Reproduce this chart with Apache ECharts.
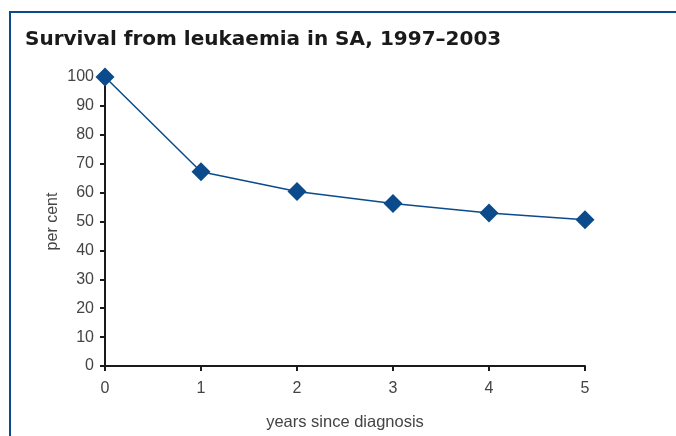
<!DOCTYPE html>
<html>
<head>
<meta charset="utf-8">
<title>Survival from leukaemia in SA</title>
<script src="https://cdn.jsdelivr.net/npm/echarts@6/dist/echarts.min.js"></script>
<style>
  html, body { margin: 0; padding: 0; background: #fff; }
  #frame { position: absolute; left: 9px; top: 11px; width: 667px; height: 425px;
           border-top: 2px solid #0b4a8b; border-left: 2px solid #0b4a8b; box-sizing: border-box; }
  #chart { width: 676px; height: 436px; }
</style>
</head>
<body>
<div id="frame"></div>
<div id="chart"></div>
<script>
// years since diagnosis
var years = [0, 1, 2, 3, 4, 5];
// per cent surviving
var survival = [100, 67.2, 60.4, 56.2, 52.9, 50.6];

var chart = echarts.init(document.getElementById('chart'));

var axisText = { color: '#444', fontSize: 16, fontFamily: 'Liberation Sans, Arial, sans-serif' };

chart.setOption({
    animation: false,
    title: {
        text: 'Survival from leukaemia in SA, 1997–2003',
        left: 20,
        top: 25,
        textStyle: { fontSize: 20, fontWeight: 'bold', color: '#1a1a1a', fontFamily: 'DejaVu Sans, sans-serif' }
    },
    grid: { left: 105, right: 91, top: 77, bottom: 65 },
    xAxis: {
        type: 'value',
        min: 0, max: 5, interval: 1,
        name: 'years since diagnosis',
        nameLocation: 'middle',
        nameGap: 48,
        nameMoveOverlap: false,
        nameTextStyle: Object.assign({}, axisText, { fontSize: 16.5 }),
        axisLine: { lineStyle: { color: '#1a1a1a', width: 2 } },
        axisTick: { length: 5, lineStyle: { color: '#1a1a1a', width: 2 } },
        axisLabel: Object.assign({ margin: 15 }, axisText),
        splitLine: { show: false }
    },
    yAxis: {
        type: 'value',
        min: 0, max: 100, interval: 10,
        name: 'per cent',
        nameLocation: 'middle',
        nameGap: 44,
        nameMoveOverlap: false,
        nameTextStyle: axisText,
        axisLine: { show: true, lineStyle: { color: '#1a1a1a', width: 2 } },
        axisTick: { show: true, length: 5, lineStyle: { color: '#1a1a1a', width: 2 } },
        axisLabel: Object.assign({ margin: 11 }, axisText),
        splitLine: { show: false }
    },
    series: [{
        type: 'line',
        data: years.map(function (x, i) { return [x, survival[i]]; }),
        symbol: 'diamond',
        symbolSize: 19,
        lineStyle: { color: '#0b4a8b', width: 1.5 },
        itemStyle: { color: '#0b4a8b' },
        z: 3
    }]
});
</script>
</body>
</html>
